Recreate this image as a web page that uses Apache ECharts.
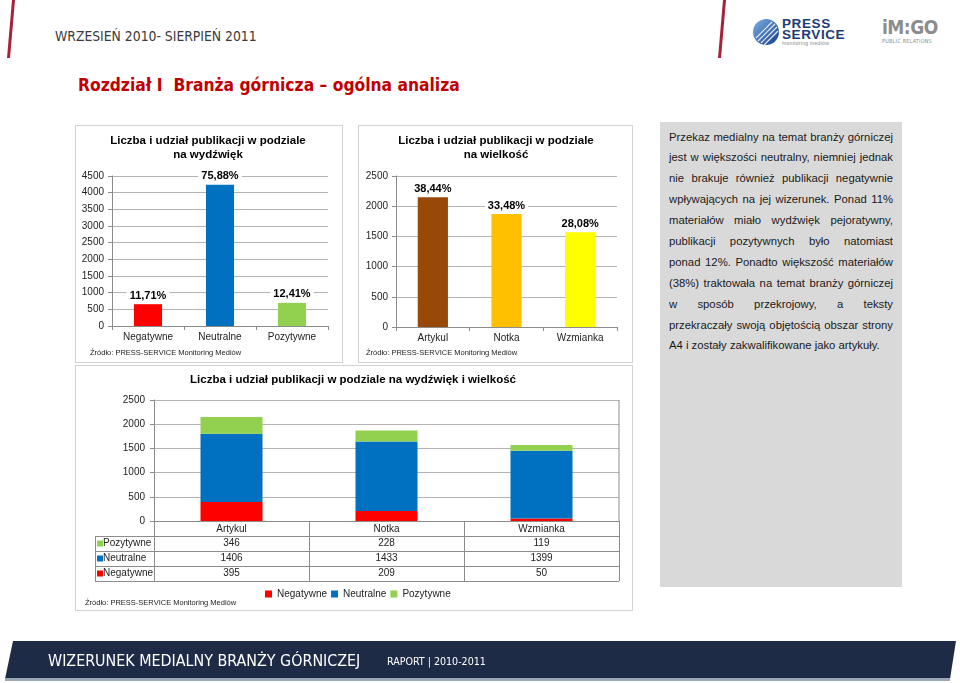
<!DOCTYPE html>
<html><head><meta charset="utf-8">
<script src="https://cdn.jsdelivr.net/npm/echarts@6/dist/echarts.min.js"></script>
<style>
html,body{margin:0;padding:0;width:960px;height:683px;overflow:hidden;background:#fff;font-family:"Liberation Sans",Arial,sans-serif;}
.frame{position:absolute;border:1px solid #d2d2d2;background:#fff;box-sizing:border-box;}
#chart{position:absolute;left:0;top:0;width:960px;height:683px;z-index:2;}
#deco{position:absolute;left:0;top:0;width:960px;height:683px;z-index:1;}
.hdr{position:absolute;left:55px;top:28px;font-family:"Liberation Sans Narrow","DejaVu Sans Condensed",sans-serif;font-size:13.8px;color:#3a3a3a;white-space:nowrap;}
.ttl{position:absolute;left:78px;top:75px;font-family:"Liberation Sans Narrow","DejaVu Sans Condensed",sans-serif;font-weight:bold;font-size:17.3px;color:#c00000;white-space:nowrap;}
#panel{position:absolute;left:660px;top:122px;width:242px;height:465px;background:#d9d9d9;z-index:1;}
#ptext{position:absolute;left:9px;top:4.5px;width:224px;font-size:11.3px;color:#1a1a1a;}
#ptext div{height:20.9px;line-height:20.9px;text-align:justify;text-align-last:justify;white-space:nowrap;}
#ptext div.last{text-align:left;text-align-last:left;}
.ftxt{position:absolute;left:48px;top:651px;font-family:"Liberation Sans Narrow","DejaVu Sans Condensed",sans-serif;font-size:15.9px;color:#fff;white-space:nowrap;z-index:3;}
.ftxt2{position:absolute;left:387px;top:655px;font-family:"Liberation Sans Narrow","DejaVu Sans Condensed",sans-serif;font-size:10.6px;color:#fff;white-space:nowrap;z-index:3;}
.logo1{position:absolute;left:782px;top:18px;font-family:"Liberation Sans",Arial,sans-serif;font-weight:bold;color:#1d3b78;font-size:13.5px;line-height:11px;letter-spacing:0.6px;}
.logo1 small{display:block;font-size:5px;font-weight:normal;color:#888;letter-spacing:0.3px;line-height:7px;}
.logo2{position:absolute;left:882px;top:17px;font-family:"DejaVu Sans Condensed",sans-serif;font-weight:bold;color:#8c8c8c;font-size:19px;line-height:20px;letter-spacing:-0.5px;}
.logo2 small{display:block;font-size:5.5px;color:#8c8c8c;line-height:8px;letter-spacing:0.2px;font-weight:normal;}
</style></head>
<body>
<svg id="deco" width="960" height="683">
  <polygon points="12,0 15,0 10,58 7,58" fill="#a8213a"/>
  <polygon points="723,0 726,0 721,58 718,58" fill="#a8213a"/>
  <defs><linearGradient id="gb" x1="0" y1="0" x2="1" y2="1"><stop offset="0" stop-color="#7fb2e5"/><stop offset="1" stop-color="#123c8a"/></linearGradient></defs>
  <circle cx="766" cy="32" r="13" fill="url(#gb)"/>
  <g stroke="#fff" stroke-width="1.2" opacity="0.85">
    <line x1="756" y1="38" x2="772" y2="22"/><line x1="758" y1="41" x2="775" y2="24"/><line x1="761" y1="43" x2="777" y2="27"/><line x1="764" y1="45" x2="778" y2="31"/>
  </g>
  <polygon points="13,641 956,641 950,679 5,679" fill="#1d2b47"/>
  <polygon points="5,678 950,678 950,681 5,681" fill="#9aa6b6"/>
</svg>
<div class="hdr">WRZESIEŃ 2010- SIERPIEŃ 2011</div>
<div class="logo1">PRESS<br>SERVICE<small>monitoring mediów</small></div>
<div class="logo2">iM:GO<small>PUBLIC RELATIONS</small></div>
<div class="ttl">Rozdział I&nbsp; Branża górnicza – ogólna analiza</div>
<div class="frame" style="left:75px;top:125px;width:268px;height:238px;"></div>
<div class="frame" style="left:358px;top:125px;width:275px;height:238px;"></div>
<div class="frame" style="left:75px;top:365px;width:558px;height:246px;"></div>
<div id="panel"><div id="ptext">
<div>Przekaz medialny na temat branży górniczej</div>
<div>jest w większości neutralny, niemniej jednak</div>
<div>nie brakuje również publikacji negatywnie</div>
<div>wpływających na jej wizerunek. Ponad 11%</div>
<div>materiałów miało wydźwięk pejoratywny,</div>
<div>publikacji pozytywnych było natomiast</div>
<div>ponad 12%. Ponadto większość materiałów</div>
<div>(38%) traktowała na temat branży górniczej</div>
<div>w sposób przekrojowy, a teksty</div>
<div>przekraczały swoją objętością obszar strony</div>
<div class="last">A4 i zostały zakwalifikowane jako artykuły.</div>
</div></div>
<div class="ftxt">WIZERUNEK MEDIALNY BRANŻY GÓRNICZEJ</div>
<div class="ftxt2">RAPORT | 2010-2011</div>
<div id="chart"></div>
<script>
// ---- data ----
const toneCategories = ['Negatywne', 'Neutralne', 'Pozytywne'];
const toneTotals = [654, 4238, 693];
const toneShares = ['11,71%', '75,88%', '12,41%'];
const toneColors = ['#ff0000', '#0070c0', '#92d050'];

const sizeCategories = ['Artykul', 'Notka', 'Wzmianka'];
const sizeTotals = [2147, 1870, 1568];
const sizeShares = ['38,44%', '33,48%', '28,08%'];
const sizeColors = ['#984807', '#ffc000', '#ffff00'];

const seriesNames = ['Negatywne', 'Neutralne', 'Pozytywne'];
const negValues = [395, 209, 50];
const neuValues = [1406, 1433, 1399];
const pozValues = [346, 228, 119];
const stackColors = ['#ff0000', '#0070c0', '#92d050'];

const toneAxis = { max: 4500, interval: 500 };
const sizeAxis = { max: 2500, interval: 500 };
const stackAxis = { max: 2500, interval: 500 };

const sourceText = 'Źródło: PRESS-SERVICE Monitoring Mediów';
const titles = [
  'Liczba i udział publikacji w podziale\nna wydźwięk',
  'Liczba i udział publikacji w podziale\nna wielkość',
  'Liczba i udział publikacji w podziale na wydźwięk i wielkość'
];

// ---- chart ----
const FONT = '"Liberation Sans", Arial, sans-serif';
const AX = '#8c8c8c';
const GRID = '#b3b3b3';
const chart = echarts.init(document.getElementById('chart'), null, { renderer: 'canvas' });

function xAx(idx, cats, tickLen, margin) {
  return {
    type: 'category', gridIndex: idx, data: cats,
    axisLine: { lineStyle: { color: AX } },
    axisTick: { show: true, length: tickLen, lineStyle: { color: AX } },
    axisLabel: { fontSize: 10, color: '#222', margin: margin, fontFamily: FONT }
  };
}
function yAx(idx, cfg, margin) {
  return {
    type: 'value', gridIndex: idx, min: 0, max: cfg.max, interval: cfg.interval,
    axisLine: { show: true, lineStyle: { color: AX } },
    axisTick: { show: true, length: 4, lineStyle: { color: AX } },
    axisLabel: { fontSize: 10, color: '#222', margin: margin, fontFamily: FONT, formatter: v => String(v) },
    splitLine: { lineStyle: { color: GRID } }
  };
}
const pctLabel = (arr) => ({
  show: true, position: 'top', distance: 2,
  formatter: p => arr[p.dataIndex],
  fontWeight: 'bold', fontSize: 11, color: '#000', fontFamily: FONT,
  backgroundColor: '#fff', padding: [1, 3]
});
const titleStyle = { fontSize: 11.5, fontWeight: 'bold', color: '#000', fontFamily: FONT, lineHeight: 14 };

const stackData = [negValues, neuValues, pozValues];

const option = {
  animation: false,
  backgroundColor: 'transparent',
  textStyle: { fontFamily: FONT },
  title: [
    { text: titles[0], left: 208, top: 134, textAlign: 'center', textStyle: titleStyle, padding: 0 },
    { text: titles[1], left: 496, top: 134, textAlign: 'center', textStyle: titleStyle, padding: 0 },
    { text: titles[2], left: 353, top: 373, textAlign: 'center', textStyle: titleStyle, padding: 0 }
  ],
  grid: [
    { left: 112, top: 176, width: 216, height: 150 },
    { left: 396, top: 176, width: 221, height: 151 },
    { left: 154, top: 400, width: 465, height: 121 }
  ],
  xAxis: [
    xAx(0, toneCategories, 4, 6),
    xAx(1, sizeCategories, 4, 6),
    xAx(2, sizeCategories, 60, 3)
  ],
  yAxis: [
    yAx(0, toneAxis, 8),
    yAx(1, sizeAxis, 8),
    yAx(2, stackAxis, 9)
  ],
  legend: {
    data: seriesNames, left: 265, top: 589, icon: 'rect', itemWidth: 7, itemHeight: 7, itemGap: 4,
    textStyle: { fontSize: 10, color: '#222', fontFamily: FONT }, padding: 0
  },
  series: [
    {
      name: 'Wydźwięk', type: 'bar', xAxisIndex: 0, yAxisIndex: 0, barWidth: '39%',
      data: toneTotals.map((v, i) => ({ value: v, itemStyle: { color: toneColors[i] } })),
      label: pctLabel(toneShares)
    },
    {
      name: 'Wielkość', type: 'bar', xAxisIndex: 1, yAxisIndex: 1, barWidth: '41%',
      data: sizeTotals.map((v, i) => ({ value: v, itemStyle: { color: sizeColors[i] } })),
      label: pctLabel(sizeShares)
    }
  ].concat(seriesNames.map((n, k) => ({
    name: n, type: 'bar', stack: 'total', xAxisIndex: 2, yAxisIndex: 2, barWidth: '40%',
    itemStyle: { color: stackColors[k] }, data: stackData[k]
  })))
};
chart.setOption(option);

// ---- data table under the stacked chart (positions from the axis scale) ----
const g = [];
const TL = '#8c8c8c';
const axisY = chart.convertToPixel({ yAxisIndex: 2 }, 0);
const topY = chart.convertToPixel({ yAxisIndex: 2 }, stackAxis.max);
const rightX = chart.convertToPixel({ xAxisIndex: 2 }, sizeCategories[2]) + 465 / 6;
const rowH = 15;
const tableLeft = 95;
g.push({ type: 'line', shape: { x1: rightX, y1: topY, x2: rightX, y2: axisY }, style: { stroke: TL, lineWidth: 1 } });
for (let r = 1; r <= 4; r++) {
  const y = Math.round(axisY + rowH * r) + 0.5;
  g.push({ type: 'line', shape: { x1: tableLeft, y1: y, x2: rightX, y2: y }, style: { stroke: TL, lineWidth: 1 } });
}
g.push({ type: 'line', shape: { x1: tableLeft + 0.5, y1: axisY + rowH, x2: tableLeft + 0.5, y2: axisY + rowH * 4 }, style: { stroke: TL, lineWidth: 1 } });
const rowOrder = [2, 1, 0]; // Pozytywne, Neutralne, Negatywne
rowOrder.forEach((k, r) => {
  const cy = axisY + rowH * (r + 1.5);
  g.push({ type: 'rect', shape: { x: 97, y: cy - 3, width: 6, height: 6 }, style: { fill: stackColors[k] } });
  g.push({ type: 'text', x: 103, y: cy, style: { text: seriesNames[k], fontSize: 10, fill: '#222', fontFamily: FONT, textVerticalAlign: 'middle', textAlign: 'left' } });
  sizeCategories.forEach((c, i) => {
    const cx = chart.convertToPixel({ xAxisIndex: 2 }, c);
    g.push({ type: 'text', x: cx, y: cy, style: { text: String(stackData[k][i]), fontSize: 10, fill: '#222', fontFamily: FONT, textAlign: 'center', textVerticalAlign: 'middle' } });
  });
});
[[90, 353], [366, 353], [85, 603]].forEach(p => {
  g.push({ type: 'text', x: p[0], y: p[1], style: { text: sourceText, fontSize: 7.5, fill: '#222', fontFamily: FONT, textVerticalAlign: 'middle' } });
});
chart.setOption({ graphic: g });
</script>
</body></html>
